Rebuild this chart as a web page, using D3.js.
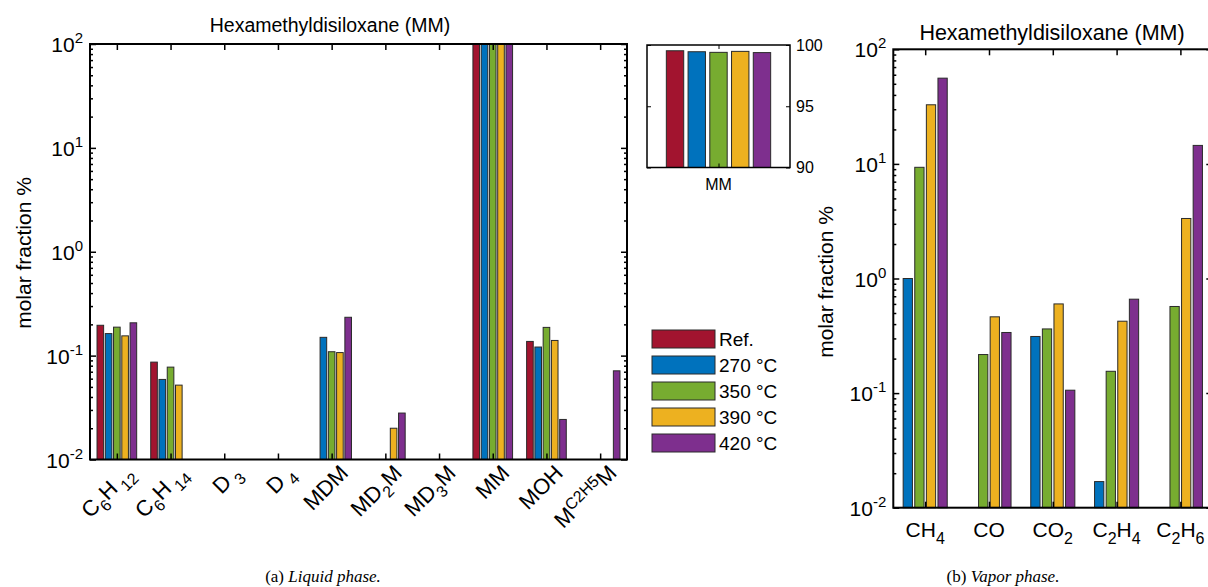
<!DOCTYPE html>
<html>
<head>
<meta charset="utf-8">
<script src="https://cdn.jsdelivr.net/npm/d3@7"></script>
<style>
body { margin: 0; background: #fff; }
svg { display: block; font-family: "Liberation Sans", Arial, sans-serif; }
.caption { font-family: "Liberation Serif", "DejaVu Serif", serif; }
</style>
</head>
<body>
<svg width="1208" height="587"></svg>
<script>
// ---- data ----
var seriesNames = ['Ref.', '270 °C', '350 °C', '390 °C', '420 °C'];
var seriesColors = ['#A2142F', '#0072BD', '#77AC30', '#EDB120', '#7E2F8E'];

// liquid phase categories (label parts: [text, 'sub'|'sup'|''])
var liquidLabels = [
  [['C',''],['6','sub'],['H',''],[' 12','sub']],
  [['C',''],['6','sub'],['H',''],[' 14','sub']],
  [['D',''],[' 3','sub']],
  [['D',''],[' 4','sub']],
  [['MDM','']],
  [['MD',''],['2','sub'],['M','']],
  [['MD',''],['3','sub'],['M','']],
  [['MM','']],
  [['MOH','']],
  [['M',''],['C2H5','sup'],['M','']]
];
var liquidRef = [0.196, 0.0866, null, null, null, null, null, 99.53, 0.137, null];
var liquid270 = [0.163, 0.059, null, null, 0.150, null, null, 99.45, 0.121, null];
var liquid350 = [0.188, 0.0775, null, null, 0.109, null, null, 99.40, 0.187, null];
var liquid390 = [0.155, 0.052, null, null, 0.107, 0.020, null, 99.48, 0.140, null];
var liquid420 = [0.207, null, null, null, 0.234, 0.028, null, 99.38, 0.0243, 0.0714];

// inset: MM only
var insetValues = [99.53, 99.45, 99.40, 99.48, 99.38];
var insetTicks = [90, 95, 100];

// vapor phase (no Ref. series)
var vaporLabels = [
  [['CH',''],['4','sub']],
  [['CO','']],
  [['CO',''],['2','sub']],
  [['C',''],['2','sub'],['H',''],['4','sub']],
  [['C',''],['2','sub'],['H',''],['6','sub']]
];
var vapor270 = [1.0, null, 0.312, 0.0169, null];
var vapor350 = [9.34, 0.217, 0.363, 0.155, 0.57];
var vapor390 = [32.8, 0.463, 0.60, 0.424, 3.34];
var vapor420 = [56, 0.338, 0.106, 0.66, 14.5];

var logMajors = [0.01, 0.1, 1, 10, 100];

// ---- helpers ----
var svg = d3.select('svg');

function richText(sel, parts, size, small, shift) {
  var off = 0;
  parts.forEach(function(p) {
    var target = p[1] === 'sub' ? shift : (p[1] === 'sup' ? -shift : 0);
    sel.append('tspan')
      .attr('dy', target - off)
      .style('font-size', (p[1] ? small : size) + 'px')
      .text(p[0]);
    off = target;
  });
}

function logMinors() {
  var out = [];
  for (var e = -2; e < 2; e++) {
    for (var k = 2; k < 10; k++) out.push(k * Math.pow(10, e));
  }
  return out;
}

function drawLogPanel(opt) {
  var g = svg.append('g');
  var n = opt.labels.length;
  var x = d3.scaleLinear().domain([0.5, n + 0.5]).range([opt.x0, opt.x1]);
  var y = d3.scaleLog().domain([0.01, 100]).range([opt.y1, opt.y0]);
  var ns = opt.data.length;
  var groupW = Math.min(0.8, ns / (ns + 1.5));
  var slot = groupW / ns;
  var off = d3.scaleLinear().domain([0, ns - 1]).range([-(groupW - slot) / 2, (groupW - slot) / 2]);
  var barW = (x(1 + slot * 0.8) - x(1));

  // bars
  opt.data.forEach(function(vals, si) {
    g.append('g').selectAll('rect')
      .data(vals.map(function(v, i) { return {v: v, i: i}; }).filter(function(d) { return d.v != null; }))
      .enter().append('rect')
      .attr('x', function(d) { return x(d.i + 1 + off(si)) - barW / 2; })
      .attr('y', function(d) { return y(Math.min(d.v, 100)); })
      .attr('width', barW)
      .attr('height', function(d) { return opt.y1 - y(Math.min(d.v, 100)); })
      .style('fill', opt.colors[si])
      .style('stroke', '#2a2a2a')
      .style('stroke-width', 1);
  });

  // ticks on all four sides, pointing inward
  var ticksX = d3.range(1, n + 1);
  function strip(a) { a.select('.domain').remove(); a.selectAll('text').remove(); a.selectAll('line').style('stroke', '#000').style('stroke-width', 1.5); }
  g.append('g').attr('transform', 'translate(0,' + opt.y1 + ')')
    .call(d3.axisBottom(x).tickValues(ticksX).tickSize(-6)).call(strip);
  g.append('g').attr('transform', 'translate(0,' + opt.y0 + ')')
    .call(d3.axisTop(x).tickValues(ticksX).tickSize(-6)).call(strip);
  g.append('g').attr('transform', 'translate(' + opt.x0 + ',0)')
    .call(d3.axisLeft(y).tickValues(logMajors).tickSize(-6)).call(strip);
  g.append('g').attr('transform', 'translate(' + opt.x0 + ',0)')
    .call(d3.axisLeft(y).tickValues(logMinors()).tickSize(-3)).call(strip);
  g.append('g').attr('transform', 'translate(' + opt.x1 + ',0)')
    .call(d3.axisRight(y).tickValues(logMajors).tickSize(-6)).call(strip);
  g.append('g').attr('transform', 'translate(' + opt.x1 + ',0)')
    .call(d3.axisRight(y).tickValues(logMinors()).tickSize(-3)).call(strip);

  g.append('rect')
    .attr('x', opt.x0).attr('y', opt.y0)
    .attr('width', opt.x1 - opt.x0).attr('height', opt.y1 - opt.y0)
    .style('fill', 'none').style('stroke', '#000').style('stroke-width', 2);

  // y tick labels 10^n
  logMajors.forEach(function(v) {
    var t = g.append('text')
      .attr('x', opt.x0 - 7)
      .attr('y', y(v) + 8)
      .attr('text-anchor', 'end')
      .style('font-size', '21px');
    richText(t, [['10',''], [String(Math.round(Math.log10(v))), 'sup']], 21, 15, 9);
  });

  // category labels
  opt.labels.forEach(function(parts, i) {
    var t;
    if (opt.rotate) {
      t = g.append('text')
        .attr('transform', 'translate(' + (x(i + 1) + 8) + ',' + (opt.y1 + 5) + ') rotate(-45)')
        .attr('text-anchor', 'end')
        .attr('y', 14);
      richText(t, parts, 22, 16, 7);
    } else {
      t = g.append('text')
        .attr('x', x(i + 1))
        .attr('y', opt.y1 + 29)
        .attr('text-anchor', 'middle');
      richText(t, parts, 21, 16, 7);
    }
  });

  g.append('text')
    .attr('x', opt.titleX)
    .attr('y', opt.titleY)
    .attr('text-anchor', 'middle')
    .style('font-size', opt.titleSize + 'px')
    .text('Hexamethyldisiloxane (MM)');

  g.append('text')
    .attr('transform', 'translate(' + opt.ylabX + ',' + opt.ylabY + ') rotate(-90)')
    .attr('text-anchor', 'middle')
    .style('font-size', '21px')
    .text('molar fraction %');
  return g;
}

// ---- (a) liquid phase ----
drawLogPanel({
  x0: 90, x1: 627, y0: 44, y1: 459.5,
  labels: liquidLabels,
  data: [liquidRef, liquid270, liquid350, liquid390, liquid420],
  colors: seriesColors,
  rotate: true,
  titleX: 330, titleY: 32, titleSize: 19.5,
  ylabX: 31, ylabY: 253
});

// ---- inset ----
(function() {
  var ix0 = 647, ix1 = 790, iy0 = 45, iy1 = 167.5;
  var g = svg.append('g');
  var yi = d3.scaleLinear().domain([90, 100]).range([iy1, iy0]);
  var xi = d3.scaleLinear().domain([0.5, 1.5]).range([ix0, ix1]);
  var slot = 0.152;
  var off = d3.scaleLinear().domain([0, 4]).range([-2 * slot, 2 * slot]);
  var bw = xi(1 + slot * 0.8) - xi(1);
  g.selectAll('rect.bar').data(insetValues).enter().append('rect')
    .attr('class', 'bar')
    .attr('x', function(d, i) { return xi(1 + off(i)) - bw / 2; })
    .attr('y', function(d) { return yi(d); })
    .attr('width', bw)
    .attr('height', function(d) { return iy1 - yi(d); })
    .style('fill', function(d, i) { return seriesColors[i]; })
    .style('stroke', '#2a2a2a').style('stroke-width', 1);
  function strip(a) { a.select('.domain').remove(); a.selectAll('text').remove(); a.selectAll('line').style('stroke', '#000'); }
  g.append('g').attr('transform', 'translate(' + ix0 + ',0)')
    .call(d3.axisLeft(yi).tickValues(insetTicks).tickSize(-4)).call(strip);
  var ra = g.append('g').attr('transform', 'translate(' + ix1 + ',0)')
    .call(d3.axisRight(yi).tickValues(insetTicks).tickSize(-4).tickPadding(9));
  ra.select('.domain').remove();
  ra.selectAll('text').style('font-size', '16px').style('font-family', '"Liberation Sans", Arial, sans-serif').attr('text-anchor', 'start').attr('x', 6);
  ra.selectAll('line').style('stroke', '#000');
  g.append('g').attr('transform', 'translate(0,' + iy0 + ')')
    .call(d3.axisTop(xi).tickValues([1]).tickSize(-4)).call(strip);
  g.append('g').attr('transform', 'translate(0,' + iy1 + ')')
    .call(d3.axisBottom(xi).tickValues([1]).tickSize(-4)).call(strip);
  g.append('rect').attr('x', ix0).attr('y', iy0).attr('width', ix1 - ix0).attr('height', iy1 - iy0)
    .style('fill', 'none').style('stroke', '#000').style('stroke-width', 1.5);
  g.append('text').attr('x', xi(1)).attr('y', iy1 + 22).attr('text-anchor', 'middle')
    .style('font-size', '16px').text('MM');
})();

// ---- legend ----
var legend = svg.append('g').attr('transform', 'translate(652,330)');
var lrow = legend.selectAll('g').data(seriesNames).enter().append('g')
  .attr('transform', function(d, i) { return 'translate(0,' + (i * 26) + ')'; });
lrow.append('rect').attr('width', 63).attr('height', 18)
  .style('fill', function(d, i) { return seriesColors[i]; })
  .style('stroke', '#2a2a2a').style('stroke-width', 1);
lrow.append('text').attr('x', 67).attr('y', 16).style('font-size', '19px')
  .text(function(d) { return d; });

// ---- (b) vapor phase ----
drawLogPanel({
  x0: 893.3, x1: 1212.3, y0: 49.3, y1: 507.7,
  labels: vaporLabels,
  data: [vapor270, vapor350, vapor390, vapor420],
  colors: seriesColors.slice(1),
  rotate: false,
  titleX: 1052, titleY: 40, titleSize: 21.5,
  ylabX: 833, ylabY: 282
});

// ---- captions ----
function caption(cx, tag, words) {
  var t = svg.append('text').attr('class', 'caption')
    .attr('x', cx).attr('y', 582).attr('text-anchor', 'middle').style('font-size', '17px');
  t.append('tspan').text(tag + '  ');
  t.append('tspan').style('font-style', 'italic').text(words);
}
caption(323, '(a)', 'Liquid phase.');
caption(1003, '(b)', 'Vapor phase.');
</script>
</body>
</html>
